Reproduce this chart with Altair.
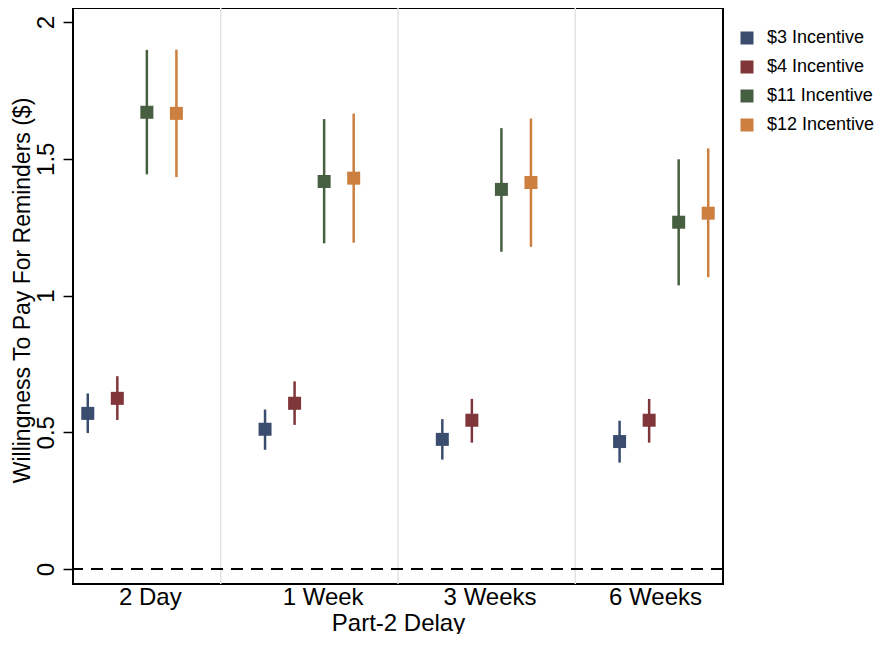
import json
import altair as alt
import pandas as pd

delays = ["2 Day", "1 Week", "3 Weeks", "6 Weeks"]
series = ["$3 Incentive", "$4 Incentive", "$11 Incentive", "$12 Incentive"]
colors = ["#3a4d6f", "#7f353a", "#465f40", "#cc7f3f"]

mean_3 = [0.569, 0.511, 0.474, 0.466]
mean_4 = [0.624, 0.606, 0.544, 0.544]
mean_11 = [1.670, 1.417, 1.388, 1.268]
mean_12 = [1.666, 1.429, 1.413, 1.301]

lo_3 = [0.497, 0.436, 0.400, 0.389]
lo_4 = [0.545, 0.527, 0.462, 0.462]
lo_11 = [1.443, 1.191, 1.160, 1.037]
lo_12 = [1.433, 1.193, 1.178, 1.067]

hi_3 = [0.642, 0.583, 0.548, 0.542]
hi_4 = [0.705, 0.686, 0.622, 0.622]
hi_11 = [1.898, 1.645, 1.612, 1.498]
hi_12 = [1.899, 1.665, 1.647, 1.538]

y_ticks = [0, 0.5, 1, 1.5, 2]
group_dividers = [4.5, 10.5, 16.5]
delay_label_pos = [2.1, 7.95, 13.6, 19.2]

means = [mean_3, mean_4, mean_11, mean_12]
lows = [lo_3, lo_4, lo_11, lo_12]
highs = [hi_3, hi_4, hi_11, hi_12]

rows = []
for si, s in enumerate(series):
    for di, d in enumerate(delays):
        rows.append({"delay": d, "series": s, "mean": means[si][di],
                     "lo": lows[si][di], "hi": highs[si][di]})
df = pd.DataFrame(rows)

FONT = "Liberation Sans"
xpos_expr = f"indexof({json.dumps(delays)}, datum.delay) * 6 + indexof({json.dumps(series)}, datum.series)"

label_expr = (
    f"datum.value < 5 ? '{delays[0]}' : datum.value < 11 ? '{delays[1]}' : "
    f"datum.value < 17 ? '{delays[2]}' : '{delays[3]}'"
)

x_scale = alt.Scale(domain=[-0.5, 21.5], nice=False, zero=False)
y_scale = alt.Scale(domain=[-0.0548, 2.0512], nice=False, zero=False)
color_scale = alt.Scale(domain=series, range=colors)

x_axis = alt.Axis(
    title="Part-2 Delay",
    values=delay_label_pos,
    labelExpr=label_expr,
    ticks=False,
    domain=False,
    grid=False,
    labelFontSize=24,
    labelPadding=1,
    titleFontSize=24,
    titleY=46,
    titleBaseline="alphabetic",
    labelFont=FONT,
    titleFont=FONT,
    labelColor="black",
    titleColor="black",
    titleFontWeight="normal",
)
y_axis = alt.Axis(
    title="Willingness To Pay For Reminders ($)",
    values=y_ticks,
    format="~g",
    grid=False,
    domain=False,
    tickSize=10,
    tickWidth=1.5,
    tickColor="black",
    labelAngle=270,
    labelAlign="center",
    labelBaseline="bottom",
    labelPadding=5,
    labelFontSize=24,
    titleFontSize=23,
    titleAngle=270,
    titleAlign="center",
    titleBaseline="alphabetic",
    titleX=-44,
    titleY=282,
    labelFont=FONT,
    titleFont=FONT,
    labelColor="black",
    titleColor="black",
    titleFontWeight="normal",
)
legend = alt.Legend(
    title=None,
    orient="none",
    legendX=665,
    legendY=21,
    symbolType="square",
    symbolSize=169,
    symbolStrokeWidth=0,
    labelFontSize=18,
    labelFont=FONT,
    labelColor="black",
    labelOffset=11,
    rowPadding=11,
    labelLimit=200,
)

base = alt.Chart(df).transform_calculate(xpos=xpos_expr)

dividers = alt.Chart(pd.DataFrame({"xpos": group_dividers})).mark_rule(
    color="#e3e3e3", strokeWidth=1.5
).encode(x=alt.X("xpos:Q", scale=x_scale, axis=x_axis))

zero_line = alt.Chart(pd.DataFrame({"mean": [0]})).mark_rule(
    color="black", strokeWidth=2, strokeDash=[12, 8]
).encode(y=alt.Y("mean:Q", scale=y_scale, axis=y_axis))

bars = base.mark_rule(strokeWidth=2.5).encode(
    x=alt.X("xpos:Q", scale=x_scale, axis=x_axis),
    y=alt.Y("lo:Q", scale=y_scale, axis=y_axis),
    y2="hi:Q",
    color=alt.Color("series:N", scale=color_scale, sort=series, legend=legend),
)

points = base.mark_square(size=169, opacity=1, filled=True).encode(
    x=alt.X("xpos:Q", scale=x_scale, axis=x_axis),
    y=alt.Y("mean:Q", scale=y_scale, axis=y_axis),
    color=alt.Color("series:N", scale=color_scale, sort=series, legend=legend),
)

chart = alt.layer(dividers, zero_line, bars, points).properties(
    width=650,
    height=576,
    background="white",
    autosize=alt.AutoSizeParams(type="none"),
    padding={"left": 65, "top": 0, "right": 152, "bottom": 50},
).configure_view(
    stroke="black", strokeWidth=2
)

chart.save("out.html", embed_options={"renderer": "svg", "actions": False})
